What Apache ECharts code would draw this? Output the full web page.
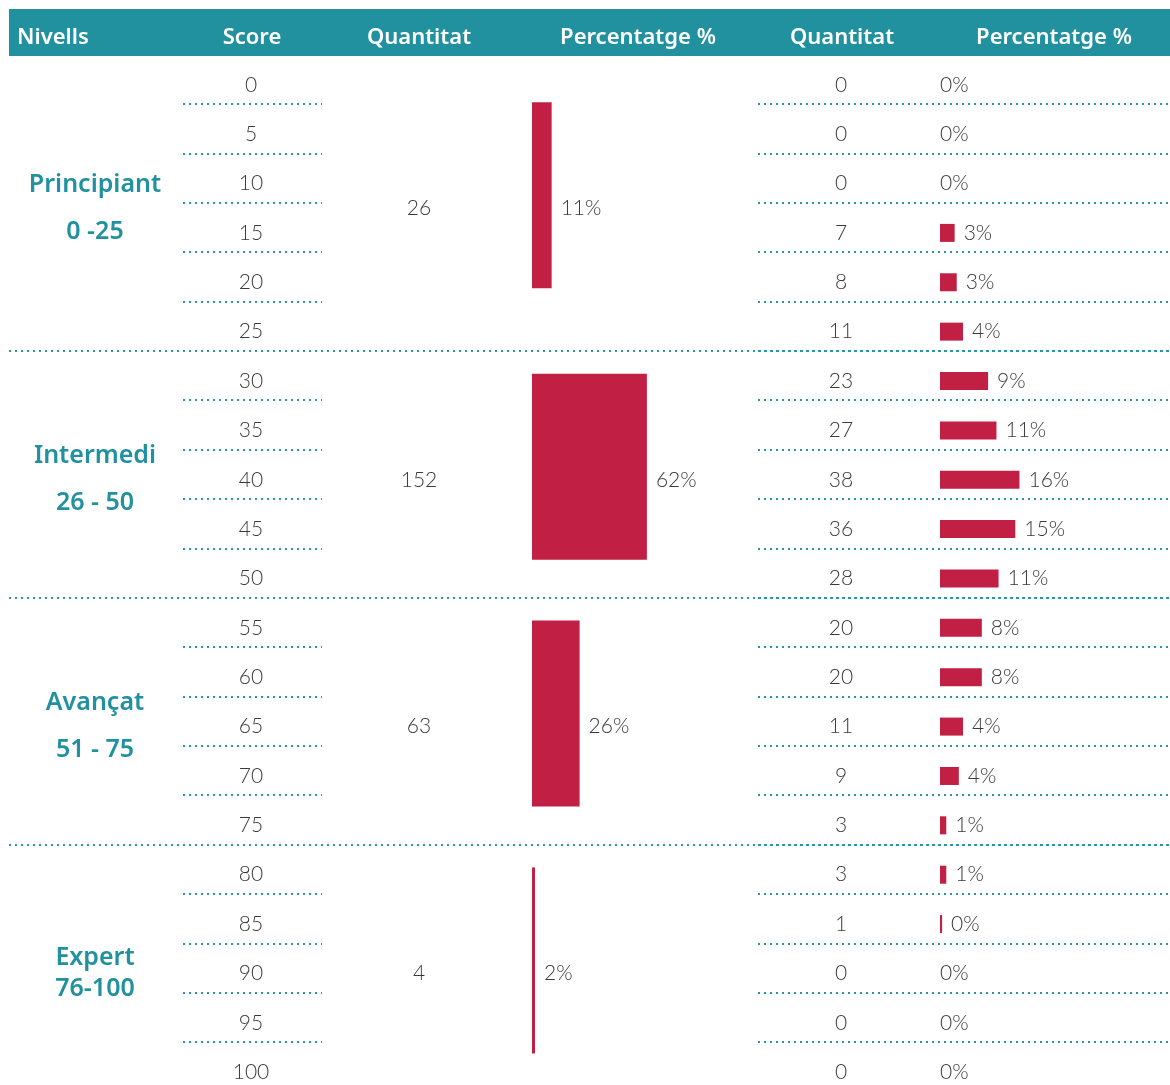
<!DOCTYPE html>
<html>
<head>
<meta charset="utf-8">
<script src="https://cdn.jsdelivr.net/npm/echarts@6/dist/echarts.min.js"></script>
<style>
  html, body { margin: 0; padding: 0; background: #fff; }
  #chart { width: 1170px; height: 1085px; }
</style>
</head>
<body>
<div id="chart"></div>
<script>
const scores = [0, 5, 10, 15, 20, 25, 30, 35, 40, 45, 50, 55, 60, 65, 70, 75, 80, 85, 90, 95, 100];
const counts = [0, 0, 0, 7, 8, 11, 23, 27, 38, 36, 28, 20, 20, 11, 9, 3, 3, 1, 0, 0, 0];
const percents = [0, 0, 0, 3, 3, 4, 9, 11, 16, 15, 11, 8, 8, 4, 4, 1, 1, 0, 0, 0, 0];

const levelNames = ["Principiant", "Intermedi", "Avançat", "Expert"];
const levelRanges = ["0 -25", "26 - 50", "51 - 75", "76-100"];
const levelCounts = [26, 152, 63, 4];
const levelPercents = [11, 62, 26, 2];
// first and last row index of each level
const levelRows = [[0, 5], [6, 10], [11, 15], [16, 20]];

const headers = ["Nivells", "Score", "Quantitat", "Percentatge %", "Quantitat", "Percentatge %"];

const TEAL = "#2191a0";
const RED = "#c21f45";
const INK = "#3a3a3a";
const ROW_TOP = 54.6;
const ROW_H = 49.37;
const TEXT_SHIFT = 5.5;
const TABLE_H = ROW_H * scores.length;
const groupStarts = levelRows.slice(1).map((r) => r[0]);

const numFont = { fontFamily: "Lato", fontWeight: 300, fontSize: 21, color: INK };
const dotted = { color: "#2897a5", width: 2, type: [2, 4], cap: "butt" };

const chart = echarts.init(document.getElementById("chart"), null, { renderer: "canvas" });

const grids = [];
const xAxes = [];
const yAxes = [];
const series = [];

function addGrid(box) {
  grids.push({ outerBoundsMode: "none", containLabel: false, ...box });
  return grids.length - 1;
}

function rowAxis(gridIndex, data, showLine, axisLabel) {
  return {
    type: "category",
    gridIndex,
    data,
    inverse: true,
    position: "left",
    axisLine: { show: false },
    axisTick: { show: false },
    axisLabel: axisLabel || { show: false },
    splitLine: {
      show: !!showLine,
      showMaxLine: false,
      interval: (i) => (showLine ? showLine(i) : false),
      lineStyle: dotted,
    },
  };
}

function hiddenX(gridIndex, max) {
  return { type: "value", gridIndex, min: 0, max, show: false, splitLine: { show: false } };
}

// 0: score column lines
addGrid({ left: 183, width: 139, top: ROW_TOP, height: TABLE_H });
xAxes.push(hiddenX(0, 1));
yAxes.push(rowAxis(0, scores.map(String), (i) => i > 0 && !groupStarts.includes(i)));

// 1: right side lines
addGrid({ left: 758, width: 412, top: ROW_TOP, height: TABLE_H });
xAxes.push(hiddenX(1, 1));
yAxes.push(rowAxis(1, scores.map(String), (i) => i > 0));

// 2: full width level separators
addGrid({ left: 9, width: 1161, top: ROW_TOP, height: TABLE_H });
xAxes.push(hiddenX(2, 1));
yAxes.push(rowAxis(2, scores.map(String), (i) => groupStarts.includes(i)));

// 3: per score bars, with score and quantity labels (rows sit a bit below the band centre)
addGrid({ left: 940, width: 230, top: ROW_TOP + TEXT_SHIFT, height: TABLE_H });
xAxes.push(hiddenX(3, 110));
yAxes.push(rowAxis(3, scores.map(String), null));
yAxes.push(rowAxis(3, scores.map(String), null, { margin: 940 - 251, align: "center", ...numFont }));
yAxes.push(rowAxis(3, counts.map(String), null, { margin: 940 - 841, align: "center", ...numFont }));
series.push({
  type: "bar",
  xAxisIndex: 3,
  yAxisIndex: 3,
  barWidth: 18,
  silent: true,
  itemStyle: { color: RED },
  data: counts.map((c) => ({
    value: c,
    label: { distance: c === 0 ? 0 : 9 },
  })),
  label: {
    show: true,
    position: "right",
    ...numFont,
    formatter: (p) => percents[p.dataIndex] + "%",
  },
});

// one grid per level
levelRows.forEach(([s, e], g) => {
  const center = ROW_TOP + (ROW_H * (s + e + 1)) / 2;
  const gi = addGrid({ left: 532, width: 226, top: center - 7.5 - 93, height: 186 });
  xAxes.push(hiddenX(gi, 299));
  const nameAxis = yAxes.length;
  const lh = g === 3 ? 31 : 47;
  yAxes.push({
    type: "category",
    gridIndex: gi,
    position: "left",
    data: [levelNames[g]],
    axisLine: { show: false },
    axisTick: { show: false },
    splitLine: { show: false },
    axisLabel: {
      margin: 532 - 95,
      align: "center",
      padding: [26, 0, 0, 0],
      formatter: () => "{n|" + levelNames[g] + "}\n{n|" + levelRanges[g] + "}",
      rich: {
        n: {
          fontFamily: "Noto Sans",
          fontWeight: 600,
          fontSize: 25,
          color: TEAL,
          lineHeight: lh,
          align: "center",
        },
      },
    },
  });
  yAxes.push({
    type: "category",
    gridIndex: gi,
    position: "left",
    data: [String(levelCounts[g])],
    axisLine: { show: false },
    axisTick: { show: false },
    splitLine: { show: false },
    axisLabel: {
      margin: 532 - 419,
      align: "center",
      padding: [26, 0, 0, 0],
      formatter: (v) => "{q|" + v + "}",
      rich: { q: { ...numFont, align: "center" } },
    },
  });
  series.push({
    type: "bar",
    xAxisIndex: gi,
    yAxisIndex: nameAxis,
    barWidth: "100%",
    silent: true,
    itemStyle: { color: RED },
    data: [levelCounts[g]],
    label: {
      show: true,
      position: "right",
      distance: 9,
      offset: [0, 13],
      ...numFont,
      formatter: () => levelPercents[g] + "%",
    },
  });
});

const headerX = [17, 252, 419, 638, 842, 1054];
const graphic = [
  { type: "rect", left: 9, top: 9, shape: { width: 1161, height: 47 }, style: { fill: TEAL }, silent: true },
].concat(
  headers.map((h, i) => ({
    type: "text",
    x: headerX[i],
    y: 38,
    silent: true,
    style: {
      text: h,
      fill: "#fff",
      font: "600 22px 'Noto Sans'",
      textAlign: i === 0 ? "left" : "center",
      textVerticalAlign: "middle",
    },
  }))
);

chart.setOption({
  animation: false,
  backgroundColor: "#fff",
  grid: grids,
  xAxis: xAxes,
  yAxis: yAxes,
  series,
  graphic,
});
</script>
</body>
</html>
